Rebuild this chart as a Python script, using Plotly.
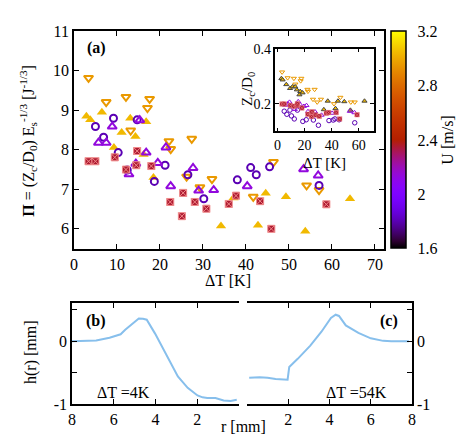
import numpy as np
import plotly.graph_objects as go

# main panel (a): Pi vs dT, inset: Zc/D0 vs dT, colour = U [m/s]
u_tri_down, u_tri_up, u_circle, u_tri_open, u_square = 2.95, 3.04, 1.8, 2.13, 2.35

dt_tri_down = [3.4, 7.5, 12.1, 13.2, 17.1, 17.6, 22.1, 22.5, 26.2, 27.4, 29.3, 32.1, 41.7, 46.4, 54.1, 57.0]
pi_tri_down = [9.82, 9.21, 9.34, 8.49, 9.06, 9.29, 8.22, 8.02, 7.32, 8.28, 7.05, 7.26, 6.81, 7.69, 7.10, 6.98]
z_tri_down = [0.315, 0.294, 0.292, 0.271, 0.283, 0.292, 0.252, 0.245, 0.216, 0.252, 0.206, 0.216, 0.200, 0.223, 0.206, 0.206]

dt_tri_up = [2.9, 3.8, 6.5, 9.3, 11.1, 13.1, 14.3, 16.2, 16.8, 18.5, 34.2, 37.1, 42.8, 44.6, 49.3, 53.8, 64.2]
pi_tri_up = [8.85, 8.76, 8.95, 8.06, 8.44, 8.80, 8.34, 7.88, 8.71, 7.30, 6.07, 6.78, 6.09, 6.90, 6.81, 5.94, 6.76]
z_tri_up = [0.292, 0.287, 0.270, 0.256, 0.262, 0.262, 0.251, 0.233, 0.245, 0.240, 0.179, 0.210, 0.183, 0.210, 0.208, 0.177, 0.210]

dt_circle = [5.0, 6.9, 9.2, 10.3, 12.4, 14.7, 18.7, 21.2, 26.5, 30.2, 38.0, 41.1, 42.4, 45.5, 57.0]
pi_circle = [8.59, 8.32, 8.80, 7.93, 7.49, 8.76, 7.20, 7.61, 7.37, 6.76, 7.24, 7.55, 7.37, 7.57, 7.10]
z_circle = [0.173, 0.162, 0.177, 0.156, 0.145, 0.177, 0.136, 0.142, 0.141, 0.122, 0.139, 0.141, 0.145, 0.142, 0.131]

dt_tri_open = [5.7, 7.5, 8.9, 12.8, 14.4, 15.3, 16.8, 19.5, 21.4, 22.5, 27.7, 29.0, 32.5, 40.3, 53.4, 56.8]
pi_tri_open = [8.18, 8.18, 8.59, 7.38, 7.65, 8.75, 7.93, 7.67, 8.06, 7.08, 7.54, 6.97, 6.98, 7.08, 7.51, 7.35]
z_tri_open = [0.195, 0.200, 0.206, 0.180, 0.190, 0.208, 0.197, 0.191, 0.194, 0.172, 0.171, 0.160, 0.159, 0.166, 0.173, 0.168]

dt_square = [3.4, 5.0, 9.5, 12.1, 14.5, 14.7, 18.0, 22.4, 25.1, 25.4, 28.1, 30.8, 36.0, 37.7, 43.3, 45.9, 58.7]
pi_square = [7.71, 7.71, 7.81, 7.50, 7.61, 7.97, 7.59, 6.68, 6.32, 6.91, 6.68, 6.51, 6.63, 6.84, 6.70, 6.00, 6.62]
z_square = [0.199, 0.199, 0.194, 0.191, 0.194, 0.200, 0.185, 0.162, 0.154, 0.171, 0.159, 0.155, 0.166, 0.168, 0.168, 0.145, 0.160]

# profiles (b) dT = 4K and (c) dT = 54K
r_b = [8.0, 7.5, 6.84, 6.2, 5.67, 5.45, 5.2, 4.95, 4.8, 4.6, 4.42, 4.02, 3.55, 2.93, 2.46, 1.99, 1.75, 1.52, 1.13, 0.95, 0.74, 0.4, 0.11]
h_b = [0.0, 0.005, 0.01, 0.055, 0.11, 0.18, 0.25, 0.32, 0.36, 0.355, 0.34, 0.12, -0.18, -0.56, -0.74, -0.86, -0.89, -0.90, -0.90, -0.92, -0.94, -0.95, -0.93]
r_c = [0.11, 0.62, 1.0, 1.39, 1.97, 2.0, 2.05, 2.46, 3.07, 3.61, 4.07, 4.3, 4.46, 4.79, 5.4, 6.0, 6.6, 7.0, 7.85]
h_c = [-0.58, -0.57, -0.58, -0.60, -0.61, -0.55, -0.41, -0.28, -0.07, 0.15, 0.37, 0.42, 0.40, 0.25, 0.13, 0.045, 0.005, 0.0, 0.0]

U_MIN, U_MAX = 1.6, 3.2
W, H = 469, 436
FONT = "'Liberation Serif', 'Times New Roman', serif"


def gnuplot_scale(n=33):
    # gnuplot default palette (rgbformulae 7,5,15)
    stops = []
    for t in np.linspace(0, 1, n):
        r = np.sqrt(t)
        g = t ** 3
        b = max(np.sin(2 * np.pi * t), 0)
        stops.append([t, f"rgb({int(r * 255)},{int(g * 255)},{int(b * 255)})"])
    return stops


def px(x0, x1):
    return [x0 / W, x1 / W]


def py(top, bottom):
    return [1 - bottom / H, 1 - top / H]


series = [
    (dt_tri_down, pi_tri_down, z_tri_down, u_tri_down, "triangle-down-open", 8, 2),
    (dt_tri_up, pi_tri_up, z_tri_up, u_tri_up, "triangle-up", 9, 0),
    (dt_circle, pi_circle, z_circle, u_circle, "circle-open", 7, 2),
    (dt_tri_open, pi_tri_open, z_tri_open, u_tri_open, "triangle-up-open", 8, 2),
    (dt_square, pi_square, z_square, u_square, "square-x", 7, 1),
]

fig = go.Figure()
for dt, pi, z, u, symbol, size, lw in series:
    line = dict(width=lw)
    small = dict(width=1)
    if symbol == "square-x":
        line = dict(width=1, color="#f08a8a")
        small = dict(width=0.5, color="#f08a8a")
    fig.add_trace(go.Scatter(
        x=dt, y=pi, mode="markers", xaxis="x", yaxis="y",
        marker=dict(symbol=symbol, size=size, color=[u] * len(dt),
                    coloraxis="coloraxis", line=line),
    ))
    fig.add_trace(go.Scatter(
        x=dt, y=z, mode="markers", xaxis="x2", yaxis="y2",
        marker=dict(symbol=symbol, size=4.5, color=[u] * len(dt),
                    coloraxis="coloraxis", line=small),
    ))

profile_line = dict(color="#87bfec", width=2)
fig.add_trace(go.Scatter(x=r_b, y=h_b, mode="lines", line=profile_line, xaxis="x3", yaxis="y3"))
fig.add_trace(go.Scatter(x=r_c, y=h_c, mode="lines", line=profile_line, xaxis="x4", yaxis="y4"))

axis_common = dict(
    showline=True, linecolor="black", linewidth=1.5, ticks="inside",
    tickcolor="black", ticklen=5, tickwidth=1, showgrid=False, zeroline=False,
    tickfont=dict(family=FONT, size=16, color="black"),
)
inset_font = dict(family=FONT, size=14, color="black")

fig.update_layout(
    width=W, height=H, margin=dict(l=0, r=0, t=0, b=0),
    paper_bgcolor="white", plot_bgcolor="white", showlegend=False,
    font=dict(family=FONT, size=16, color="black"),
    coloraxis=dict(
        colorscale=gnuplot_scale(), cmin=U_MIN, cmax=U_MAX,
        colorbar=dict(
            x=386 / W, xanchor="left", y=1 - 129 / H, yanchor="middle",
            len=226 / H, lenmode="fraction", thickness=15, thicknessmode="pixels",
            outlinecolor="black", outlinewidth=1.5, xpad=0, ypad=0,
            tickvals=[1.6, 2.0, 2.4, 2.8, 3.2], ticktext=["1.6", "2", "2.4", "2.8", "3.2"],
            ticks="outside", ticklen=8, tickcolor="rgba(0,0,0,0)",
            tickfont=dict(family=FONT, size=16),
            title=dict(text="U [m/s]", side="right", font=dict(family=FONT, size=16)),
        ),
    ),
    xaxis=dict(axis_common, domain=px(63, 378), range=[0, 72], dtick=10,
               mirror="ticks", anchor="y"),
    yaxis=dict(axis_common, domain=py(16, 242), range=[5.5, 11], dtick=1,
               mirror="ticks", anchor="x"),
    xaxis2=dict(axis_common, domain=px(268, 368), range=[-1.5, 71], tickvals=[0, 20, 40, 60],
                mirror="ticks", anchor="y2", ticklen=4, tickfont=inset_font),
    yaxis2=dict(axis_common, domain=py(34, 120), range=[0.1, 0.4], tickvals=[0.2, 0.4],
                mirror="ticks", anchor="x2", ticklen=4, tickfont=inset_font),
    xaxis3=dict(axis_common, domain=px(61, 231), range=[8, 0], tickvals=[8, 6, 4, 2],
                mirror="ticks", anchor="y3"),
    yaxis3=dict(axis_common, domain=py(299, 404), range=[-1, 0.6],
                tickvals=[-1, -0.5, 0, 0.5], ticktext=["-1", "", "0", ""], anchor="x3"),
    xaxis4=dict(axis_common, domain=px(239, 407), range=[0, 8], tickvals=[2, 4, 6, 8],
                mirror="ticks", anchor="y4"),
    yaxis4=dict(axis_common, domain=py(299, 404), range=[-1, 0.6], side="right",
                tickvals=[-1, -0.5, 0, 0.5], ticktext=["-1", "", "0", ""], anchor="x4"),
)

# inset background so it sits on top of the main frame
fig.add_shape(type="rect", xref="paper", yref="paper", x0=268 / W, x1=368 / W,
              y0=1 - 120 / H, y1=1 - 34 / H, fillcolor="white", line=dict(width=0),
              layer="below")


def note(text, x, y, size=16, angle=0):
    fig.add_annotation(text=text, x=x / W, y=1 - y / H, xref="paper", yref="paper",
                       showarrow=False, textangle=angle, xanchor="center", yanchor="middle",
                       font=dict(family=FONT, size=size, color="black"))


note("<b>(a)</b>", 86, 33)
note("<b>(b)</b>", 85, 317)
note("<b>(c)</b>", 384, 317)
note("<b>Π</b> = (Z<sub>c</sub>/D<sub>0</sub>) E<sub>s</sub><sup>-1/3</sup> [J<sup>-1/3</sup>]",
     16, 130, size=16, angle=-90)
note("ΔT [K]", 220, 275)
note("Z<sub>c</sub>/D<sub>0</sub>", 240, 76, size=15, angle=-90)
note("ΔT [K]", 318, 153, size=15)
note("ΔT =4K", 113, 392)
note("ΔT =54K", 350, 392)
note("h(r) [mm]", 20, 350, size=16, angle=-90)
note("r [mm]", 236, 427)

fig.write_html("out.html")
